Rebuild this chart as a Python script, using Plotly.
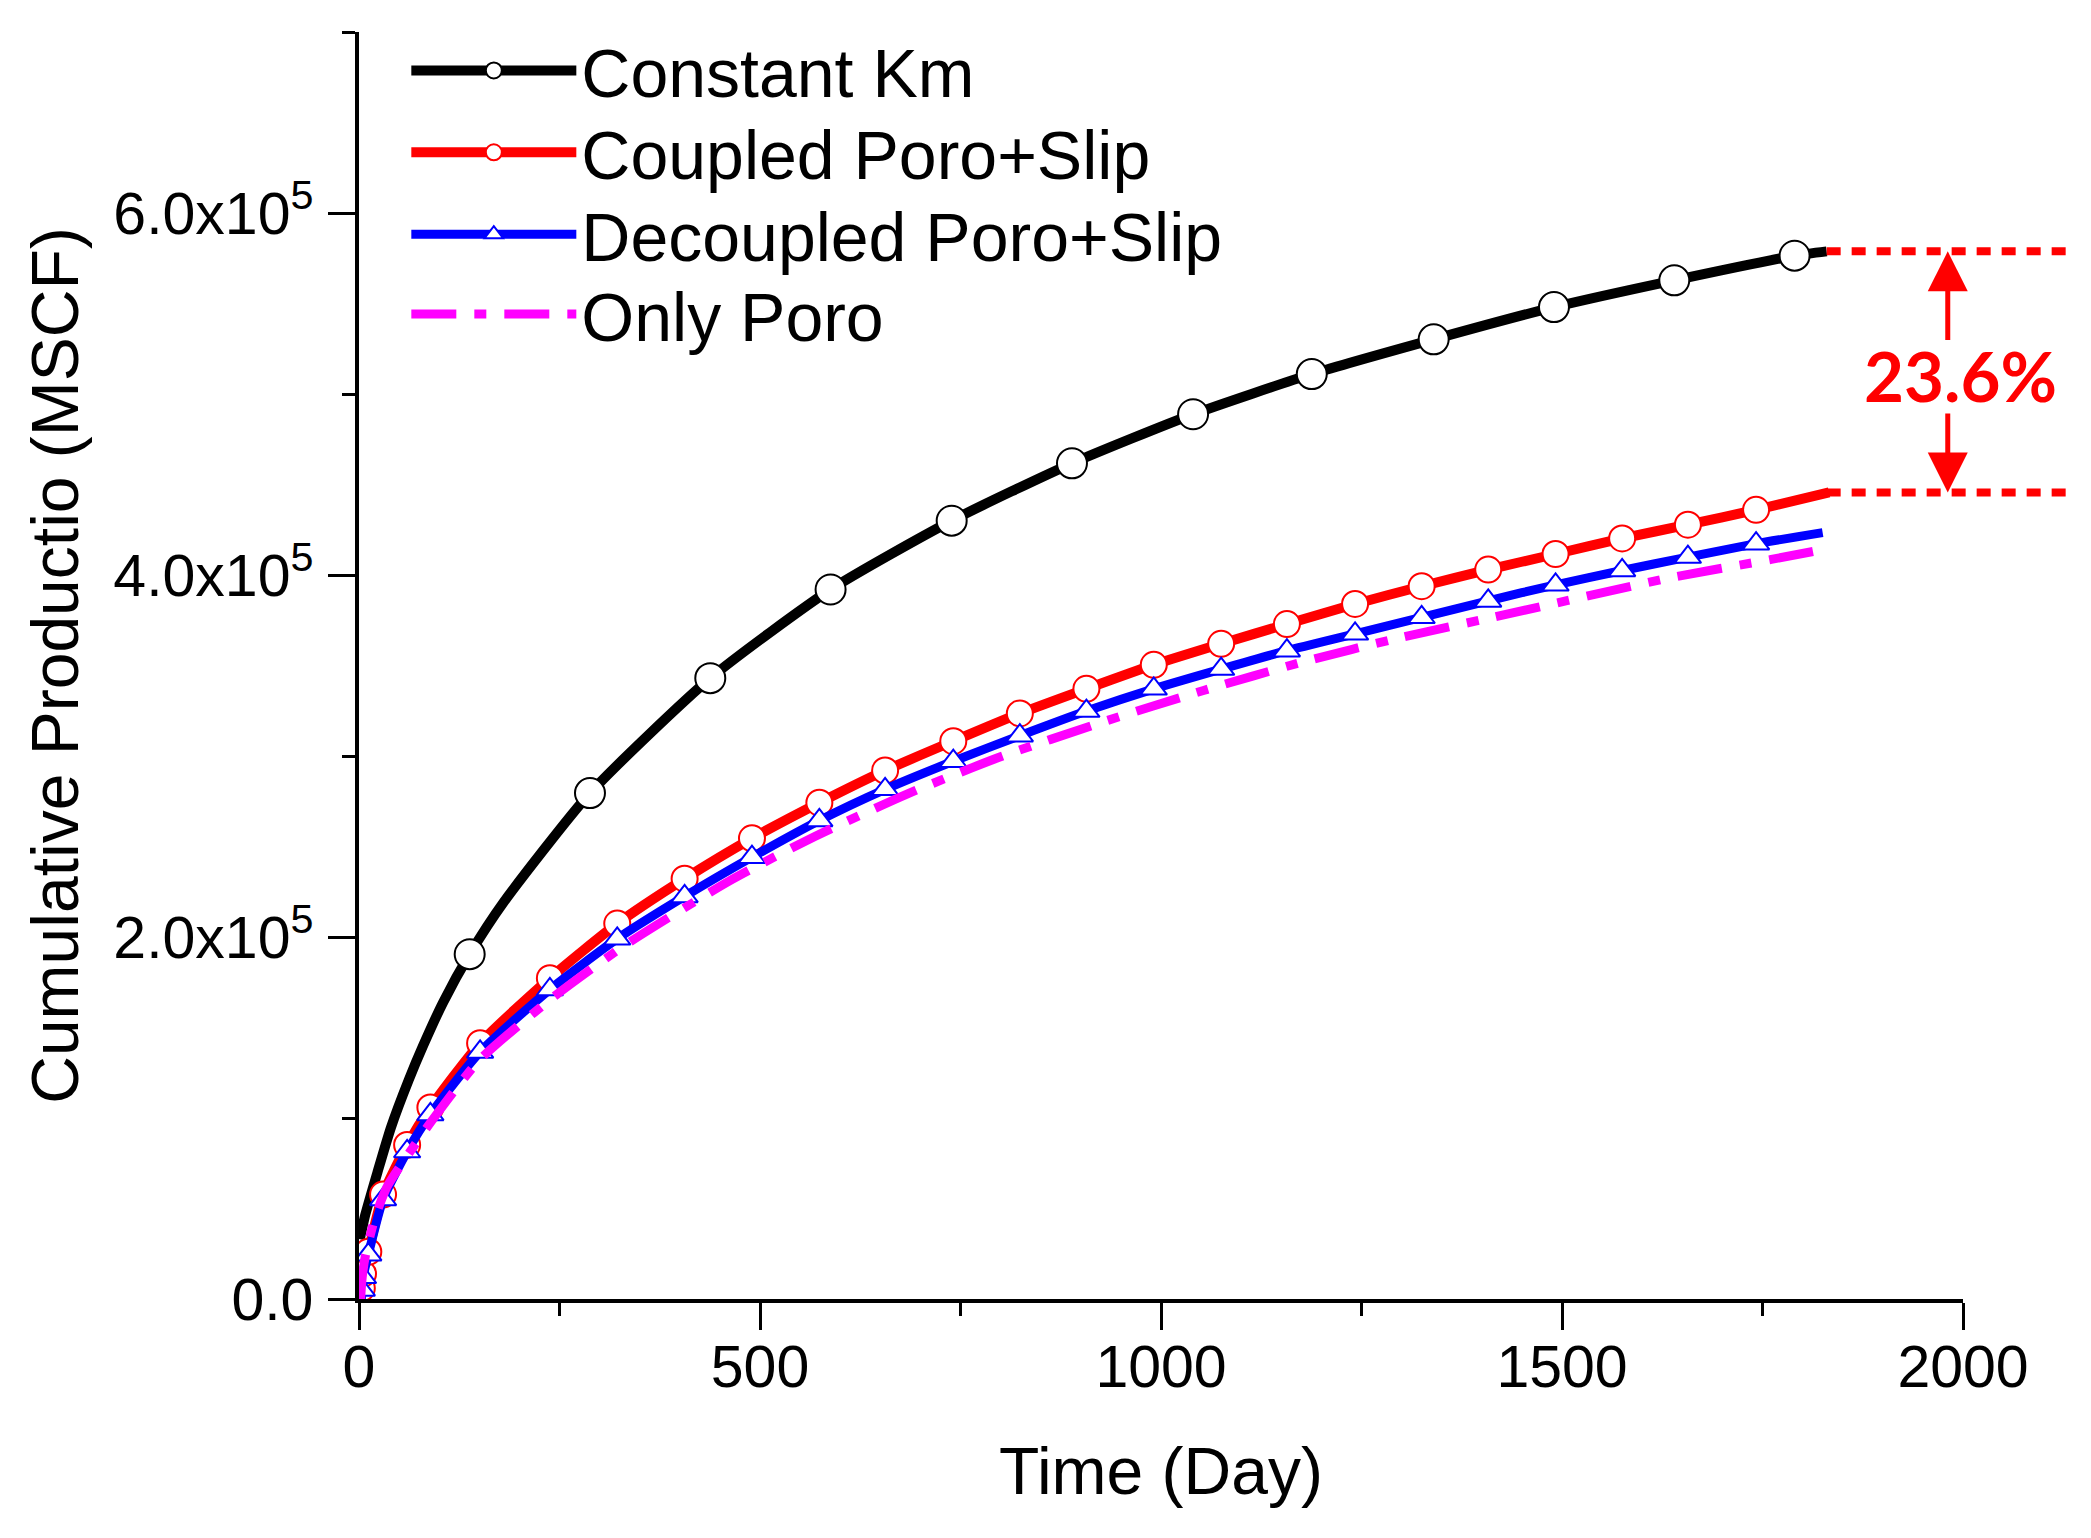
import plotly.graph_objects as go

# ── data (days, MSCF) ────────────────────────────────────────────────────────
KM_DAYS = [1, 7.5, 23, 40, 62, 80, 105, 138, 180, 288, 438, 588, 739, 889,
           1040, 1188, 1340, 1490, 1640, 1790, 1830]
KM_PROD = [33e3, 46e3, 70e3, 95e3, 121e3, 140e3, 164e3, 190.5e3, 219e3,
           279.5e3, 343e3, 392e3, 430e3, 461.7e3, 488.8e3, 511e3, 530.2e3,
           548e3, 562.8e3, 576.4e3, 578.8e3]
KM_MARK_DAYS = [138, 288, 438, 588, 739, 889, 1040, 1188, 1340, 1490, 1640, 1790]

COUPLED_DAYS = [3, 3.5, 5, 11.6, 30, 60, 89, 151, 238, 322, 406, 490, 574, 656,
                741, 824, 907, 991, 1075, 1157, 1242, 1325, 1408, 1492, 1575,
                1657, 1742, 1833]
COUPLED_PROD = [0, 6e3, 14e3, 26.1e3, 57.7e3, 85.1e3, 105.8e3, 141.3e3, 177.2e3,
                207.4e3, 232.2e3, 254.5e3, 274.2e3, 292.0e3, 308.2e3, 323.5e3,
                337.1e3, 350.4e3, 362.0e3, 372.9e3, 384.0e3, 393.8e3, 403.0e3,
                411.6e3, 420.2e3, 427.8e3, 436.0e3, 445.6e3]

DECOUPLED_DAYS = [3, 3.5, 5, 11.6, 30, 60, 89, 151, 238, 322, 406, 490, 574, 656,
                  741, 824, 907, 991, 1075, 1157, 1242, 1325, 1408, 1492, 1575,
                  1657, 1742, 1825]
DECOUPLED_PROD = [0, 5e3, 12e3, 24.5e3, 55e3, 81.5e3, 102e3, 136.5e3, 171e3,
                  199.0e3, 222.4e3, 244.1e3, 264.4e3, 281.6e3, 297.1e3, 311.2e3,
                  324.8e3, 337.1e3, 348.0e3, 358.2e3, 367.5e3, 376.6e3, 385.7e3,
                  394.6e3, 402.5e3, 409.9e3, 417.3e3, 423.4e3]

# markers sit on every point except the start and the end of each curve
SLIP_MARK_DAYS = [3.5, 5, 11.6, 30, 60, 89, 151, 238, 322, 406, 490, 574, 656,
                  741, 824, 907, 991, 1075, 1157, 1242, 1325, 1408, 1492, 1575,
                  1657, 1742]

PORO_DAYS = [2, 4, 8, 20, 35, 60, 90, 150, 240, 330, 462, 569, 684, 799, 926,
             1053, 1176, 1299, 1416, 1633, 1761, 1820]
PORO_PROD = [0, 12e3, 24e3, 45e3, 62e3, 79e3, 98e3, 132e3, 166e3, 195e3, 231e3,
             255.7e3, 279.1e3, 299.4e3, 318.6e3, 336.2e3, 351.9e3, 365.5e3,
             376.8e3, 398.3e3, 408.6e3, 413.6e3]

X_TICKS = [0, 500, 1000, 1500, 2000]
Y_TICKS = [0, 2e5, 4e5, 6e5]
Y_TICK_TEXT = ["0.0", "2.0x10<sup>5</sup>", "4.0x10<sup>5</sup>", "6.0x10<sup>5</sup>"]
GAP_TEXT = "23.6%"

FONT = "Liberation Sans, Arial, sans-serif"
RED = "#FF0000"
Y_MAX = 7e5


def pick(days, prod, wanted):
    lookup = dict(zip(days, prod))
    return wanted, [lookup[d] for d in wanted]


fig = go.Figure()

series = [
    ("Constant Km", KM_DAYS, KM_PROD, KM_MARK_DAYS, "#000000", 10, "solid",
     dict(symbol="circle", size=30, color="white", line=dict(color="#000000", width=2))),
    ("Coupled Poro+Slip", COUPLED_DAYS, COUPLED_PROD, SLIP_MARK_DAYS, RED, 10, "solid",
     dict(symbol="circle", size=26, color="white", line=dict(color=RED, width=2))),
    ("Decoupled Poro+Slip", DECOUPLED_DAYS, DECOUPLED_PROD, SLIP_MARK_DAYS, "#0000FF", 9, "solid",
     dict(symbol="triangle-up", size=23, color="white", line=dict(color="#0000FF", width=2))),
    ("Only Poro", PORO_DAYS, PORO_PROD, None, "#FF00FF", 9, "45px,18px,12px,18px", None),
]

for name, days, prod, mark_days, colour, width, dash, marker in series:
    fig.add_trace(go.Scatter(
        x=days, y=prod, mode="lines", showlegend=False,
        line=dict(color=colour, width=width, dash=dash, shape="spline", smoothing=0.6),
    ))
    if mark_days:
        mx, my = pick(days, prod, mark_days)
        fig.add_trace(go.Scatter(x=mx, y=my, mode="markers", marker=marker, showlegend=False))

# legend-only entries, one legend per row so the rows sit where the reference has them
LEGEND_ROWS = [0.9694, 0.9048, 0.8402, 0.7772]
legend_ids = ["legend", "legend2", "legend3", "legend4"]
for (name, days, prod, mark_days, colour, width, dash, marker), lid in zip(series, legend_ids):
    fig.add_trace(go.Scatter(
        x=[None], y=[None], name=name, legend=lid,
        mode="lines+markers" if marker else "lines",
        line=dict(color=colour, width=width, dash=dash),
        marker=marker,
    ))

# dotted guide lines at the end of Constant Km and Coupled Poro+Slip
for level in (KM_PROD[-1], COUPLED_PROD[-1]):
    fig.add_shape(
        type="line", xref="x domain", yref="y domain",
        x0=KM_DAYS[-1] / X_TICKS[-1], x1=1.066,
        y0=level / Y_MAX, y1=level / Y_MAX,
        line=dict(color=RED, width=8, dash="14px,11px"),
    )

# double arrow + label
for tip, tail in ((KM_PROD[-1], 529e3), (COUPLED_PROD[-1], 490e3)):
    fig.add_annotation(
        x=1981, y=tip, ax=1981, ay=tail, axref="x", ayref="y",
        text="", showarrow=True, arrowhead=2, arrowsize=1.6,
        arrowwidth=5, arrowcolor=RED, standoff=0,
    )
fig.add_annotation(
    x=1997, y=510.5e3, text=f"<b>{GAP_TEXT}</b>", showarrow=False,
    font=dict(family="Lato, Open Sans, sans-serif", size=69, color=RED),
)

axis_common = dict(
    showline=True, linecolor="black", linewidth=3.5,
    showgrid=False, zeroline=False, mirror=False,
    ticks="outside", ticklen=27, tickwidth=3, tickcolor="black",
    tickfont=dict(family=FONT, size=59, color="black"),
    title_font=dict(family=FONT, size=66, color="black"),
)

fig.update_xaxes(
    range=[0, 2000], tickvals=X_TICKS, ticklabelstandoff=-14,
    title_text="Time (Day)", title_standoff=50,
    minor=dict(dtick=250, ticks="outside", ticklen=13, tickwidth=3, tickcolor="black"),
    **axis_common,
)
fig.update_yaxes(
    range=[0, Y_MAX], tickvals=Y_TICKS, ticktext=Y_TICK_TEXT, ticklabelstandoff=3,
    title_text="Cumulative Productio (MSCF)", title_standoff=14,
    minor=dict(dtick=1e5, ticks="outside", ticklen=13, tickwidth=3, tickcolor="black"),
    **axis_common,
)

legend_style = dict(
    x=0.0295, xanchor="left", yanchor="middle",
    bgcolor="rgba(0,0,0,0)", borderwidth=0,
    font=dict(family=FONT, size=68, color="black"),
    itemwidth=165,
)

# page body has an 8px margin, so the figure is 16px smaller than the window
fig.update_layout(
    width=2075, height=1522, autosize=False,
    plot_bgcolor="white", paper_bgcolor="white",
    margin=dict(l=351, r=120, t=21, b=231),
    font=dict(family=FONT, color="black"),
    legend=dict(y=LEGEND_ROWS[0], **legend_style),
    legend2=dict(y=LEGEND_ROWS[1], **legend_style),
    legend3=dict(y=LEGEND_ROWS[2], **legend_style),
    legend4=dict(y=LEGEND_ROWS[3], **legend_style),
)

fig.write_html("out.html")
